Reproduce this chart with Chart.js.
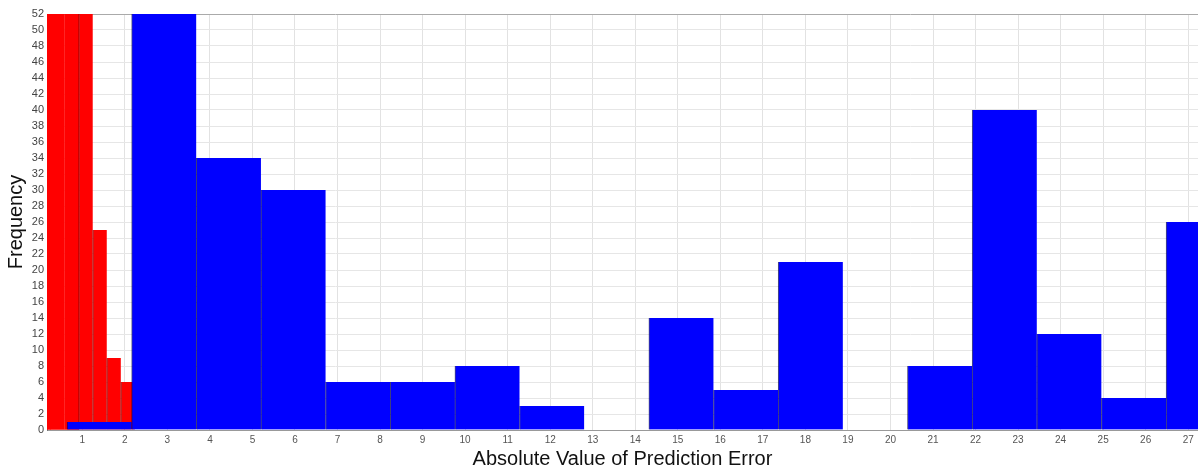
<!DOCTYPE html>
<html>
<head>
<meta charset="utf-8">
<script src="https://cdn.jsdelivr.net/npm/chart.js@4"></script>
<style>
  html, body { margin: 0; padding: 0; background: #fff; }
  #wrap { width: 1198px; height: 468px; }
</style>
</head>
<body>
<div id="wrap"><canvas id="hist"></canvas></div>
<script>
// Histogram data (bin centres on the error axis, counts)
const xTicks = [1, 2, 3, 4, 5, 6, 7, 8, 9, 10, 11, 12, 13, 14, 15, 16, 17, 18, 19, 20, 21, 22, 23, 24, 25, 26, 27];
const yTicks = [0, 2, 4, 6, 8, 10, 12, 14, 16, 18, 20, 22, 24, 26, 28, 30, 32, 34, 36, 38, 40, 42, 44, 46, 48, 50, 52];

// narrow bins (red)
const redCenters = [0.08, 0.41, 0.75, 1.08, 1.41, 1.74, 2.07];
const redCounts = [64, 62, 60, 56, 25, 9, 6];

// wide bins (blue)
const blueCenters = [1.40, 2.92, 4.44, 5.96, 7.48, 9.00, 10.52, 12.04, 13.56, 15.08, 16.60, 18.12, 19.64, 21.16, 22.68, 24.20, 25.72, 27.24];
const blueCounts = [1, 58, 34, 30, 6, 6, 8, 3, 0, 14, 5, 21, 0, 8, 40, 12, 4, 26];

const xMin = 0.17, xMax = 27.23;

const RED = '#ff0000';
const BLUE = '#0000ff';

const toPoints = (xs, ys) => xs.map((x, i) => ({ x: x, y: ys[i] }));

const barCommon = {
    grouped: false,
    categoryPercentage: 1,
    barPercentage: 1,
    borderSkipped: false
};

new Chart(document.getElementById('hist'), {
    type: 'bar',
    data: {
        datasets: [
            Object.assign({
                label: 'wide bins',
                data: toPoints(blueCenters, blueCounts),
                backgroundColor: BLUE,
                borderColor: 'rgba(0,0,60,0.7)',
                borderWidth: { left: 1, top: 0, right: 0, bottom: 0 },
                xAxisID: 'xb'
            }, barCommon),
            Object.assign({
                label: 'narrow bins',
                data: toPoints(redCenters, redCounts),
                backgroundColor: RED,
                borderColor: 'rgba(70,0,0,0.7)',
                // the first bins show as one solid block in the original
                borderWidth: (ctx) => ctx.dataIndex < 3 ? 0 : { left: 1, top: 0, right: 0, bottom: 0 },
                xAxisID: 'x'
            }, barCommon)
        ]
    },
    options: {
        responsive: true,
        maintainAspectRatio: false,
        animation: false,
        layout: { padding: { top: 14 } },
        plugins: {
            legend: { display: false },
            tooltip: { enabled: false }
        },
        scales: {
            x: {
                type: 'linear',
                min: xMin,
                max: xMax,
                offset: false,
                afterFit: (s) => { s.height = 38; },
                grid: { color: '#e2e2e2', drawTicks: false, offset: false },
                border: { display: true, color: '#999' },
                ticks: {
                    stepSize: 1,
                    includeBounds: false,
                    autoSkip: false,
                    maxRotation: 0,
                    padding: 4,
                    color: '#555',
                    font: { family: 'Liberation Sans, Arial', size: 10 },
                    callback: (v) => xTicks.includes(v) ? String(v) : ''
                },
                title: {
                    display: true,
                    text: 'Absolute Value of Prediction Error',
                    color: '#111',
                    padding: { top: 0, bottom: -3 },
                    font: { family: 'Liberation Sans, Arial', size: 20 }
                }
            },
            xb: {
                type: 'linear',
                display: false,
                offset: false,
                grid: { offset: false },
                min: xMin,
                max: xMax,
                ticks: { stepSize: 100, includeBounds: false }
            },
            y: {
                min: 0,
                max: 52,
                afterFit: (s) => { s.width = 47; },
                afterBuildTicks: (s) => { s.ticks = yTicks.map(v => ({ value: v })); },
                grid: {
                    color: (ctx) => ctx.tick && ctx.tick.value === 52 ? '#aaa' : '#e6e6e6',
                    drawTicks: false
                },
                border: { display: true, color: '#777' },
                ticks: {
                    autoSkip: false,
                    padding: 3,
                    color: '#444',
                    font: { family: 'Liberation Sans, Arial', size: 11 }
                },
                title: {
                    display: true,
                    text: 'Frequency',
                    color: '#111',
                    padding: { top: 4, bottom: 0 },
                    font: { family: 'Liberation Sans, Arial', size: 20 }
                }
            }
        }
    }
});
</script>
</body>
</html>
